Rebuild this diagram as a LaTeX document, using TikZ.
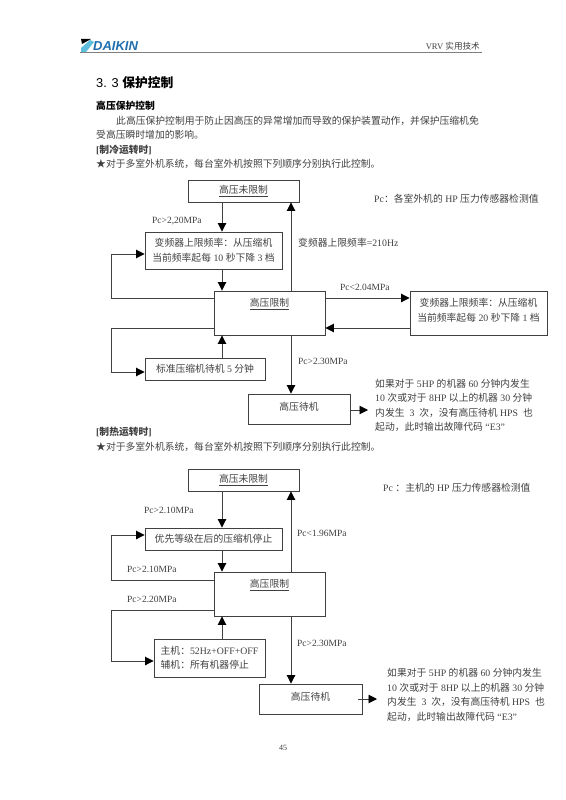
\documentclass[tikz,border=0pt]{standalone}
\usepackage{fontspec}
\setmainfont{Liberation Serif}
\setsansfont{Liberation Sans}
\newfontfamily\cjk{Noto Sans CJK SC}
\usetikzlibrary{arrows.meta}
\newcommand{\zh}[1]{{\cjk #1}}
\definecolor{inktext}{gray}{0.25}
\definecolor{inkline}{gray}{0.25}
\definecolor{logoblue}{RGB}{30,110,175}
\definecolor{logocyan}{RGB}{95,190,220}

\begin{document}
\begin{tikzpicture}[x=1pt,y=-1pt,
       flowbox/.style={draw=inkline,line width=.9pt,inner sep=0pt,align=center,text=inktext,
            font=\fontsize{9.8}{14.5}\selectfont},
       flow/.style={draw=inkline,line width=.9pt,-{Triangle[width=8.5pt,length=8.5pt,color=black]}},
       plain/.style={anchor=west,inner sep=0pt,align=left,text=inktext,
            font=\fontsize{9.8}{14.5}\selectfont},
       cond/.style={plain,font=\fontsize{9.5}{12}\selectfont}]
       \useasboundingbox (0,0) rectangle (565,800);

       \fill[black] (81,39)--(91,39)--(82,44)--cycle;
       \fill[logocyan] (81,52)--(81,48)--(90,40)--(94,42)--(86,52)--cycle;
       \node (logotext) [anchor=west,inner sep=0pt,text=logoblue,font=\sffamily\bfseries\itshape\fontsize{13}{14}\selectfont] at (93,46) {DAIKIN};
       \node (headright) [anchor=east,inner sep=0pt,text=inktext,font=\fontsize{8.6}{10}\selectfont] at (480,46) {VRV \zh{实用技术}};
       \draw[gray,line width=1pt] (80,53)--(482,53);

       \node (title) [anchor=west,inner sep=0pt,font=\sffamily\fontsize{12.8}{15}\selectfont] at (96,83) {3. 3 \zh{\bfseries 保护控制}};
       \node (subtitle) [plain,text=black,font=\fontsize{9.8}{12}\selectfont\bfseries] at (96,106) {\zh{高压保护控制}};
       \node (intro1) [plain] at (116,121) {\zh{此高压保护控制用于防止因高压的异常增加而导致的保护装置动作，并保护压缩机免}};
       \node (intro2) [plain] at (96,135) {\zh{受高压瞬时增加的影响。}};
       \node (coolhead) [plain,font=\fontsize{9.8}{12}\selectfont\bfseries] at (96,150) {[\zh{制冷运转时}]};
       \node (coolnote) [plain] at (96,164) {\zh{★对于多室外机系统，每台室外机按照下列顺序分别执行此控制。}};

       \coordinate (xin) at (222,0);
       \coordinate (xup) at (291,0);
       \coordinate (xloop) at (111,0);

       \node (free1) [flowbox,minimum width=111pt,minimum height=22pt] at (243.5,191) {\underline{\zh{高压未限制}}};
       \node (inv1) [flowbox,minimum width=137pt,minimum height=37pt] at (213.5,250.5)
            {\zh{变频器上限频率：从压缩机}\\\zh{当前频率起每} 10 \zh{秒下降} 3 \zh{档}};
       \node (limit1) [flowbox,minimum width=111pt,minimum height=44pt,text depth=21pt] at (269.5,313) {\underline{\zh{高压限制}}};
       \node (std1) [flowbox,minimum width=120pt,minimum height=22pt] at (205,369) {\zh{标准压缩机待机} 5 \zh{分钟}};
       \node (wait1) [flowbox,minimum width=102pt,minimum height=30pt,text depth=6pt] at (299,409) {\zh{高压待机}};
       \node (inv2) [flowbox,minimum width=137pt,minimum height=44pt,text depth=6pt] at (478.5,313)
            {\zh{变频器上限频率：从压缩机}\\\zh{当前频率起每} 20 \zh{秒下降} 1 \zh{档}};

       \coordinate (yhi1) at (0,298);
       \coordinate (ylo1) at (0,328);
       \coordinate (ybk1) at (0,254);
       \coordinate (ystd1) at (0,372);
       \coordinate (yout1) at (0,410);
       \coordinate (end1) at (368,410);

       \draw[flow] (free1.south -| xin) -- (inv1.north -| xin);
       \draw[flow] (inv1.south -| xin) -- (limit1.north -| xin);
       \draw[flow] (std1.north -| xin) -- (limit1.south -| xin);
       \draw[flow] (limit1.north -| xup) -- (free1.south -| xup);
       \draw[flow] (limit1.south -| xup) -- (wait1.north -| xup);
       \draw[flow] (limit1.west |- yhi1) -- (xloop |- yhi1) -- (xloop |- ybk1) -- (inv1.west |- ybk1);
       \draw[flow] (limit1.west |- ylo1) -- (xloop |- ylo1) -- (xloop |- ystd1) -- (std1.west |- ystd1);
       \draw[flow] (limit1.east |- yhi1) -- (inv2.west |- yhi1);
       \draw[flow] (inv2.west |- ylo1) -- (limit1.east |- ylo1);
       \draw[flow] (wait1.east |- yout1) -- (end1);

       \node (cond1) [cond] at (152,221) {Pc>2,20MPa};
       \node (cond2) [plain] at (374,199) {Pc\zh{：各室外机的} HP \zh{压力传感器检测值}};
       \node (cond3) [plain] at (298,243) {\zh{变频器上限频率}=210Hz};
       \node (cond4) [cond] at (340,287) {Pc<2.04MPa};
       \node (cond5) [cond] at (298,361) {Pc>2.30MPa};
       \node (fault1) [plain] at (375,405.5)
            {\zh{如果对于} 5HP \zh{的机器} 60 \zh{分钟内发生}\\10 \zh{次或对于} 8HP \zh{以上的机器} 30 \zh{分钟}\\\zh{内发生}\ \ 3\ \ \zh{次，没有高压待机}\ HPS\ \ \zh{也}\\\zh{起动，此时输出故障代码}\ “E3”};

       \node (heathead) [plain,font=\fontsize{9.8}{12}\selectfont\bfseries] at (96,432) {[\zh{制热运转时}]};
       \node (heatnote) [plain] at (96,447) {\zh{★对于多室外机系统，每台室外机按照下列顺序分别执行此控制。}};

       \node (free2) [flowbox,minimum width=111pt,minimum height=22pt] at (243.5,480) {\underline{\zh{高压未限制}}};
       \node (stop2) [flowbox,minimum width=137pt,minimum height=22pt] at (213.5,539) {\zh{优先等级在后的压缩机停止}};
       \node (limit2) [flowbox,minimum width=111pt,minimum height=44pt,text depth=21pt] at (269.5,594) {\underline{\zh{高压限制}}};
       \node (main2) [flowbox,align=left,minimum width=111pt,minimum height=38pt] at (209.5,658)
            {\zh{主机：}52Hz+OFF+OFF\\\zh{辅机：所有机器停止}};
       \node (wait2) [flowbox,minimum width=103pt,minimum height=30pt,text depth=6pt] at (310.5,699) {\zh{高压待机}};

       \coordinate (yhi2) at (0,580);
       \coordinate (ylo2) at (0,610);
       \coordinate (ybk2) at (0,535);
       \coordinate (ystd2) at (0,661);
       \coordinate (start2) at (358,699);
       \coordinate (end2) at (377,699);

       \draw[flow] (free2.south -| xin) -- (stop2.north -| xin);
       \draw[flow] (stop2.south -| xin) -- (limit2.north -| xin);
       \draw[flow] (main2.north -| xin) -- (limit2.south -| xin);
       \draw[flow] (limit2.north -| xup) -- (free2.south -| xup);
       \draw[flow] (limit2.south -| xup) -- (wait2.north -| xup);
       \draw[flow] (limit2.west |- yhi2) -- (xloop |- yhi2) -- (xloop |- ybk2) -- (stop2.west |- ybk2);
       \draw[flow] (limit2.west |- ylo2) -- (xloop |- ylo2) -- (xloop |- ystd2) -- (main2.west |- ystd2);
       \draw[flow] (start2) -- (end2);

       \node (cond6) [cond] at (144,510) {Pc>2.10MPa};
       \node (cond7) [cond] at (127,569) {Pc>2.10MPa};
       \node (cond8) [cond] at (127,599) {Pc>2.20MPa};
       \node (cond9) [cond] at (297,533) {Pc<1.96MPa};
       \node (cond10) [cond] at (297,643) {Pc>2.30MPa};
       \node (cond11) [plain] at (383,488) {Pc \zh{：主机的} HP \zh{压力传感器检测值}};
       \node (fault2) [plain] at (387,695)
            {\zh{如果对于} 5HP \zh{的机器} 60 \zh{分钟内发生}\\10 \zh{次或对于} 8HP \zh{以上的机器} 30 \zh{分钟}\\\zh{内发生}\ \ 3\ \ \zh{次，没有高压待机}\ HPS\ \ \zh{也}\\\zh{起动，此时输出故障代码}\ “E3”};

       \node (pagenum) [inner sep=0pt,text=inktext,font=\fontsize{8}{10}\selectfont] at (283,748) {45};
     \end{tikzpicture}
\end{document}
